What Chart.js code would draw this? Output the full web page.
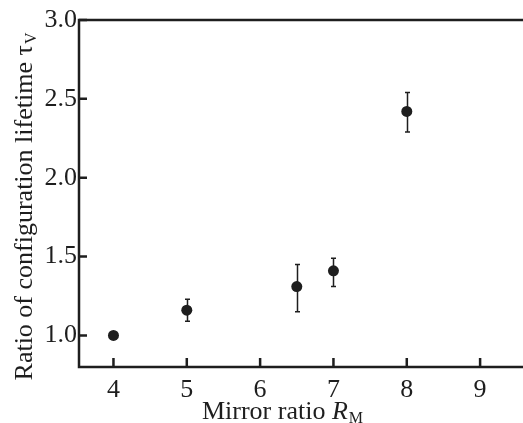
<!DOCTYPE html>
<html>
<head>
<meta charset="utf-8">
<script src="https://cdn.jsdelivr.net/npm/chart.js@4"></script>
<style>
  html, body { margin: 0; padding: 0; background: #ffffff; }
  canvas { display: block; }
</style>
</head>
<body>
<canvas id="c" width="523" height="423"></canvas>
<script>
// Mirror ratio vs. normalised configuration lifetime
const mirrorRatio = [4, 5, 6.5, 7, 8];
const lifetimeRatio = [1.00, 1.16, 1.31, 1.41, 2.42];
const errLow = [null, 1.09, 1.15, 1.31, 2.29];
const errHigh = [null, 1.23, 1.45, 1.49, 2.54];
const xTickValues = [4, 5, 6, 7, 8, 9];
const yTickValues = [1.0, 1.5, 2.0, 2.5, 3.0];

const INK = '#1e1e1e';
const SERIF = '"Liberation Serif", "Times New Roman", serif';
const FONT_SIZE = 26;

// Frame lines, inward tick marks, error bars and the axis titles
const decorations = {
  id: 'decorations',
  beforeDatasetsDraw(chart) {
    const ctx = chart.ctx;
    const xs = chart.scales.x, ys = chart.scales.y;
    ctx.save();
    ctx.strokeStyle = INK;
    ctx.lineWidth = 1.5;
    for (let i = 0; i < mirrorRatio.length; i++) {
      if (errLow[i] == null) continue;
      const px = Math.round(xs.getPixelForValue(mirrorRatio[i])) + 0.5;
      const y1 = ys.getPixelForValue(errLow[i]);
      const y2 = ys.getPixelForValue(errHigh[i]);
      ctx.beginPath();
      ctx.moveTo(px, y1); ctx.lineTo(px, y2);
      ctx.moveTo(px - 2.5, y1); ctx.lineTo(px + 2.5, y1);
      ctx.moveTo(px - 2.5, y2); ctx.lineTo(px + 2.5, y2);
      ctx.stroke();
    }
    ctx.restore();
  },
  afterDraw(chart) {
    const ctx = chart.ctx;
    const area = chart.chartArea;
    const xs = chart.scales.x, ys = chart.scales.y;
    ctx.save();
    ctx.strokeStyle = INK;
    ctx.lineWidth = 2.5;
    ctx.lineCap = 'square';
    // left, bottom and top frame lines
    ctx.beginPath();
    ctx.moveTo(chart.width, area.top);
    ctx.lineTo(area.left, area.top);
    ctx.lineTo(area.left, area.bottom);
    ctx.lineTo(chart.width, area.bottom);
    ctx.stroke();
    // inward ticks
    ctx.lineCap = 'butt';
    ctx.beginPath();
    xTickValues.forEach(v => {
      const px = xs.getPixelForValue(v);
      ctx.moveTo(px, area.bottom);
      ctx.lineTo(px, area.bottom - 9);
    });
    yTickValues.forEach(v => {
      const py = ys.getPixelForValue(v);
      ctx.moveTo(area.left, py);
      ctx.lineTo(area.left + 8, py);
    });
    ctx.stroke();

    ctx.fillStyle = INK;
    ctx.textBaseline = 'alphabetic';
    ctx.textAlign = 'left';
    // x title: Mirror ratio R_M
    const xMain = 'Mirror ratio ';
    ctx.font = FONT_SIZE + 'px ' + SERIF;
    const wMain = ctx.measureText(xMain).width;
    ctx.font = 'italic ' + FONT_SIZE + 'px ' + SERIF;
    const wR = ctx.measureText('R').width;
    ctx.font = Math.round(FONT_SIZE * 0.62) + 'px ' + SERIF;
    const wM = ctx.measureText('M').width;
    let x0 = area.left + 203 - (wMain + wR + wM) / 2;
    const xBase = 419;
    ctx.font = FONT_SIZE + 'px ' + SERIF;
    ctx.fillText(xMain, x0, xBase);
    ctx.font = 'italic ' + FONT_SIZE + 'px ' + SERIF;
    ctx.fillText('R', x0 + wMain, xBase);
    ctx.font = Math.round(FONT_SIZE * 0.62) + 'px ' + SERIF;
    ctx.fillText('M', x0 + wMain + wR + 1, xBase + 4);

    // y title: Ratio of configuration lifetime τ_V (rotated)
    const yMain = 'Ratio of configuration lifetime τ';
    ctx.font = FONT_SIZE + 'px ' + SERIF;
    const wY = ctx.measureText(yMain).width;
    ctx.font = Math.round(FONT_SIZE * 0.62) + 'px ' + SERIF;
    const wV = ctx.measureText('V').width;
    ctx.translate(32, 207);
    ctx.rotate(-Math.PI / 2);
    const s0 = -(wY + wV) / 2;
    ctx.font = FONT_SIZE + 'px ' + SERIF;
    ctx.fillText(yMain, s0, 0);
    ctx.font = Math.round(FONT_SIZE * 0.62) + 'px ' + SERIF;
    ctx.fillText('V', s0 + wY + 1, 4);
    ctx.restore();
  }
};

new Chart(document.getElementById('c'), {
  type: 'scatter',
  data: {
    datasets: [{
      data: mirrorRatio.map((x, i) => ({ x: x, y: lifetimeRatio[i] })),
      pointRadius: 5.5,
      pointHoverRadius: 5.5,
      pointBackgroundColor: INK,
      pointBorderWidth: 0,
      showLine: false
    }]
  },
  plugins: [decorations],
  options: {
    responsive: false,
    devicePixelRatio: 1,
    animation: false,
    events: [],
    layout: { padding: { top: 20, right: 0, bottom: 0, left: 0 } },
    plugins: { legend: { display: false }, tooltip: { enabled: false } },
    scales: {
      x: {
        type: 'linear',
        min: 3.53,
        max: 9.51,
        afterBuildTicks: s => { s.ticks = xTickValues.map(v => ({ value: v })); },
        afterFit: s => { s.height = 56; },
        grid: { display: false, drawTicks: false },
        border: { display: false },
        ticks: {
          padding: 8,
          color: INK,
          font: { family: SERIF, size: FONT_SIZE },
          maxRotation: 0,
          callback: v => String(v)
        }
      },
      y: {
        type: 'linear',
        min: 0.8,
        max: 3.0,
        afterBuildTicks: s => { s.ticks = yTickValues.map(v => ({ value: v })); },
        afterFit: s => { s.width = 79; },
        grid: { display: false, drawTicks: false },
        border: { display: false },
        ticks: {
          padding: 2,
          color: INK,
          font: { family: SERIF, size: FONT_SIZE },
          callback: v => v.toFixed(1)
        }
      }
    }
  }
});
</script>
</body>
</html>
